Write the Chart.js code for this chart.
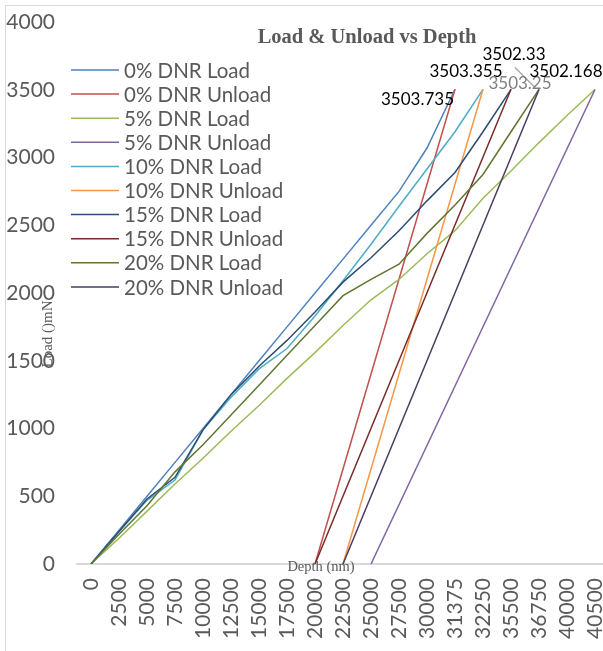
<!DOCTYPE html>
<html><head><meta charset="utf-8">
<script src="https://cdn.jsdelivr.net/npm/chart.js@4/dist/chart.umd.min.js"></script>
<style>
html,body{margin:0;padding:0;background:#fff;overflow:hidden;width:603px;height:651px;}
#wrap{position:absolute;left:0;top:0;width:620px;height:680px;}
</style></head><body>
<div id="wrap"><canvas id="c" width="620" height="680"></canvas></div>
<script>
const depthLabels = ['0','2500','5000','7500','10000','12500','15000','17500','20000','22500','25000','27500','30000','31375','32250','35500','36750','40000','40500'];

const seriesNames = ['0% DNR Load','0% DNR Unload','5% DNR Load','5% DNR Unload','10% DNR Load','10% DNR Unload','15% DNR Load','15% DNR Unload','20% DNR Load','20% DNR Unload'];

const load0   = [0,250,500,750,1000,1250,1500,1750,2000,2250,2500,2750,3070,3503.735,null,null,null,null,null];
const unload0 = [null,null,null,null,null,null,null,null,0,null,null,null,null,3503.735,null,null,null,null,null];
const load5   = [0,190,390,590,780,980,1170,1370,1560,1760,1950,2100,2290,2460,2700,2900,3110,3310,3502.168];
const unload5 = [null,null,null,null,null,null,null,null,null,null,0,null,null,null,null,null,null,null,3502.168];
const load10  = [0,240,470,620,990,1230,1440,1590,1830,2090,2360,2640,2915,3190,3503.355,null,null,null,null];
const unload10= [null,null,null,null,null,null,null,null,null,0,null,null,null,null,3503.355,null,null,null,null];
const load15  = [0,240,480,640,990,1250,1460,1650,1860,2080,2260,2460,2680,2890,3190,3503.25,null,null,null];
const unload15= [null,null,null,null,null,null,null,null,0,null,null,null,null,null,null,3503.25,null,null,null];
const load20  = [0,220,430,680,880,1100,1320,1540,1760,1980,2100,2213,2440,2650,2875,3190,3502.33,null,null];
const unload20= [null,null,null,null,null,null,null,null,null,0,null,null,null,null,null,null,3502.33,null,null];

const yTicks = [0,500,1000,1500,2000,2500,3000,3500,4000];

const seriesData = [load0,unload0,load5,unload5,load10,unload10,load15,unload15,load20,unload20];
const seriesColors = ['#4F81BD','#C0504D','#9BBB59','#8064A2','#4BACC6','#F79646','#2C4D75','#772C2A','#5F7530','#4D3B62'];

const datasets = seriesData.map((d,i)=>({
  label: seriesNames[i], data: d, borderColor: seriesColors[i], backgroundColor: seriesColors[i],
  borderWidth: 1.5, pointRadius: 0, tension: 0, spanGaps: true, fill: false, order: 10 - i
}));

// data label config: dataset index + point index; styling offsets
const pointLabels = [
  {ds:0, idx:13, dx:-1,  dy:10,  align:'right',  color:'#000000'},
  {ds:4, idx:14, dx:-17, dy:-18, align:'center', color:'#000000'},
  {ds:8, idx:16, dx:-25, dy:-35, align:'center', color:'#000000', leader:[-24,-22,-4,-2]},
  {ds:6, idx:15, dx:9,   dy:-6,  align:'center', color:'#7F7F7F'},
  {ds:2, idx:18, dx:-29, dy:-18, align:'center', color:'#000000'}
];

const FONT = 'Lato, "Open Sans", sans-serif';

const deco = {
  id: 'deco',
  beforeDraw(chart){
    const ctx = chart.ctx;
    ctx.save();
    ctx.fillStyle = '#fff';
    ctx.fillRect(0,0,chart.width,chart.height);
    ctx.strokeStyle = '#D9D9D9';
    ctx.lineWidth = 1;
    ctx.beginPath();
    ctx.moveTo(5.5, chart.height); ctx.lineTo(5.5, 5.5); ctx.lineTo(chart.width, 5.5);
    ctx.stroke();
    ctx.restore();
  },
  afterDraw(chart){
    const ctx = chart.ctx;
    ctx.save();
    // title
    ctx.fillStyle = '#595959';
    ctx.font = 'bold 20.5px "Liberation Serif", serif';
    ctx.textAlign = 'center'; ctx.textBaseline = 'middle';
    ctx.fillText('Load & Unload vs Depth', 367, 38);
    // axis titles
    ctx.font = '14.5px "Liberation Serif", serif';
    ctx.fillText('Depth (nm)', 321, 567);
    ctx.save();
    ctx.translate(48, 334); ctx.rotate(-Math.PI/2);
    ctx.font = '15px "Liberation Serif", serif';
    ctx.fillText('Load ()mN', 0, 0);
    ctx.restore();
    // legend
    ctx.font = '20.5px ' + FONT;
    ctx.textAlign = 'left';
    chart.data.datasets.forEach((ds,i)=>{
      const y = 70 + i*24.1;
      ctx.strokeStyle = ds.borderColor; ctx.lineWidth = 1.5;
      ctx.beginPath(); ctx.moveTo(71, y); ctx.lineTo(119, y); ctx.stroke();
      ctx.fillStyle = '#595959';
      ctx.fillText(ds.label, 124, y + 1);
    });
    // data labels
    ctx.font = '17px ' + FONT;
    pointLabels.forEach(l=>{
      const el = chart.getDatasetMeta(l.ds).data[l.idx];
      const v = chart.data.datasets[l.ds].data[l.idx];
      if (l.leader){
        ctx.strokeStyle = '#A6A6A6'; ctx.lineWidth = 1.5;
        ctx.beginPath(); ctx.moveTo(el.x + l.leader[0], el.y + l.leader[1]); ctx.lineTo(el.x + l.leader[2], el.y + l.leader[3]); ctx.stroke();
      }
      ctx.fillStyle = l.color; ctx.textAlign = l.align; ctx.textBaseline = 'middle';
      ctx.fillText(String(v), el.x + l.dx, el.y + l.dy);
    });
    ctx.restore();
  }
};

new Chart(document.getElementById('c'), {
  type: 'line',
  data: { labels: depthLabels, datasets },
  options: {
    responsive: false, animation: false, devicePixelRatio: 1,
    layout: { padding: { top: 22, left: 0, right: 11, bottom: 0 } },
    plugins: { legend: { display: false }, title: { display: false }, tooltip: { enabled: false } },
    scales: {
      x: {
        type: 'category', offset: true,
        grid: { display: false, drawTicks: false },
        border: { display: true, color: '#D9D9D9', width: 2 },
        ticks: { minRotation: 90, maxRotation: 90, autoSkip: false, padding: 14, color: '#595959', font: { family: FONT, size: 21 } },
        afterFit(s){ s.height = 680 - 564; s.paddingLeft = 0; s.paddingRight = 0; }
      },
      y: {
        min: 0, max: 4000,
        afterBuildTicks(s){ s.ticks = yTicks.map(v=>({value:v})); },
        grid: { display: false, drawTicks: false },
        border: { display: false },
        ticks: { padding: 22, color: '#595959', font: { family: FONT, size: 21 }, callback: (v)=>String(v) },
        afterFit(s){ s.width = 77; s.paddingTop = 0; s.paddingBottom = 0; }
      }
    }
  },
  plugins: [deco]
});
</script>
</body></html>
